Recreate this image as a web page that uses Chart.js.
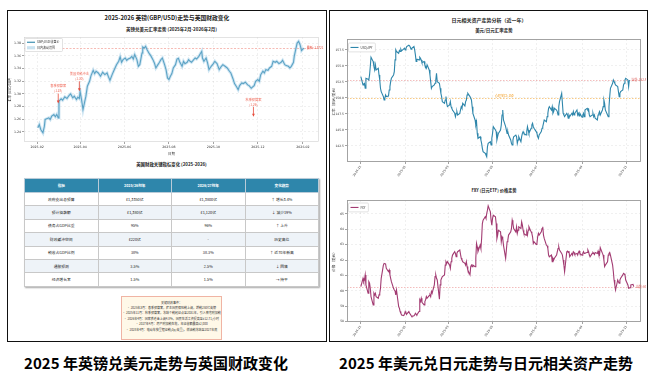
<!DOCTYPE html>
<html><head><meta charset="utf-8">
<script src="https://cdn.jsdelivr.net/npm/chart.js@4.4.1/dist/chart.umd.min.js"></script>
<style>
html,body{margin:0;padding:0;background:#fff;}
body{width:656px;height:380px;position:relative;overflow:hidden;font-family:"Noto Sans CJK SC","Noto Sans",sans-serif;color:#222;}
.frame{position:absolute;border:1.6px solid #111;box-sizing:border-box;}
.t{position:absolute;white-space:nowrap;transform:translate(-50%,-50%);font-weight:700;color:#222;}
canvas{position:absolute;}
#tbl{position:absolute;left:24px;top:178px;width:295px;border-collapse:collapse;table-layout:fixed;box-shadow:1px 1px 1.5px rgba(0,0,0,.35);}
#tbl th{background:#2E86AB;color:#fff;font-weight:700;font-size:3.6px;height:13px;padding:0;border:0.6px solid #b9cbd8;}
#tbl td{font-size:3.8px;height:12.4px;padding:0;text-align:center;border:0.6px solid #c8c8c8;color:#222;background:#fff;}
#tbl tr:nth-child(odd) td{background:#eef3f8;}
#note{position:absolute;left:121px;top:296px;width:101px;height:44px;background:#fff8e8;border:1px solid #f0b4a4;box-sizing:border-box;font-size:3px;line-height:5.4px;text-align:center;padding-top:3.5px;color:#333;white-space:nowrap;overflow:hidden;}
.cap{position:absolute;top:362px;transform:translate(-50%,-50%);font-size:15px;font-weight:700;color:#000;white-space:nowrap;}
</style></head>
<body>
<div class="frame" style="left:7px;top:10px;width:320px;height:332px;"></div>
<div class="frame" style="left:329px;top:10px;width:319px;height:332px;"></div>

<div class="t" style="left:167px;top:17px;font-size:5.8px;">2025-2026 英镑(GBP/USD)走势与英国财政变化</div>
<div class="t" style="left:171.5px;top:29px;font-size:4.5px;">英镑兑美元汇率走势 (2025年2月-2026年2月)</div>
<canvas id="gbp" width="317" height="128" style="left:8px;top:33px;"></canvas>
<div class="t" style="left:171.5px;top:164px;font-size:4.4px;">英国财政关键指标变化 (2025-2026)</div>
<table id="tbl"></table>
<div id="note"></div>

<div class="t" style="left:489px;top:19px;font-size:5px;">日元相关资产走势分析（近一年）</div>
<div class="t" style="left:494px;top:30px;font-size:4.5px;">美元/日元汇率走势</div>
<canvas id="jpy" width="315" height="145" style="left:331px;top:35px;"></canvas>
<div class="t" style="left:494px;top:190px;font-size:4.2px;">FXY (日元ETF) 价格走势</div>
<canvas id="fxy" width="315" height="145" style="left:331px;top:196px;"></canvas>

<div class="cap" style="left:156px;">2025 年英镑兑美元走势与英国财政变化</div>
<div class="cap" style="left:486px;">2025 年美元兑日元走势与日元相关资产走势</div>

<script>
// ================= DATA =================
const gbpDates = ['2025-02-02','2025-02-04','2025-02-06','2025-02-09','2025-02-11','2025-02-12','2025-02-17','2025-02-19','2025-02-21','2025-02-24','2025-02-26','2025-02-28',
'2025-03-02','2025-03-03','2025-03-06','2025-03-08','2025-03-11','2025-03-14','2025-03-17','2025-03-19','2025-03-22','2025-03-24','2025-03-27','2025-03-29','2025-03-31',
'2025-04-01','2025-04-03','2025-04-05','2025-04-07','2025-04-09','2025-04-11','2025-04-14','2025-04-16','2025-04-19','2025-04-21','2025-04-23','2025-04-26','2025-04-29',
'2025-05-02','2025-05-05','2025-05-08','2025-05-10','2025-05-12','2025-05-15','2025-05-17','2025-05-19','2025-05-21','2025-05-24','2025-05-26','2025-05-28','2025-05-30',
'2025-06-02','2025-06-04','2025-06-06','2025-06-09','2025-06-11','2025-06-13','2025-06-15','2025-06-18','2025-06-20','2025-06-22','2025-06-25','2025-06-26','2025-06-28','2025-06-30',
'2025-07-02','2025-07-05','2025-07-07','2025-07-10','2025-07-12','2025-07-14','2025-07-16','2025-07-19','2025-07-21','2025-07-23','2025-07-26','2025-07-28','2025-07-30',
'2025-08-01','2025-08-03','2025-08-05','2025-08-07','2025-08-10','2025-08-12','2025-08-14','2025-08-16','2025-08-19','2025-08-21','2025-08-23','2025-08-26','2025-08-28','2025-08-30',
'2025-09-01','2025-09-04','2025-09-06','2025-09-08','2025-09-11','2025-09-13','2025-09-15','2025-09-16','2025-09-18','2025-09-21','2025-09-23','2025-09-25','2025-09-28',
'2025-10-01','2025-10-03','2025-10-06','2025-10-09','2025-10-12','2025-10-14','2025-10-17','2025-10-20','2025-10-23','2025-10-25','2025-10-28','2025-10-30',
'2025-11-02','2025-11-04','2025-11-06','2025-11-09','2025-11-11','2025-11-14','2025-11-17','2025-11-19','2025-11-22','2025-11-24','2025-11-26','2025-11-28',
'2025-12-01','2025-12-03','2025-12-05','2025-12-08','2025-12-10','2025-12-12','2025-12-15','2025-12-17','2025-12-20','2025-12-22','2025-12-25','2025-12-27','2025-12-30',
'2026-01-02','2026-01-04','2026-01-07','2026-01-09','2026-01-12','2026-01-14','2026-01-16','2026-01-19','2026-01-20','2026-01-22','2026-01-24','2026-01-26','2026-01-28','2026-01-30',
'2026-02-02'];
const gbpClose = [1.2464,1.2516,1.2438,1.2385,1.2490,1.2595,1.2621,1.2595,1.2647,1.2673,1.2637,1.2673,
1.2621,1.2883,1.2920,1.2899,1.2951,1.2925,1.2977,1.2998,1.2935,1.2962,1.2909,1.2946,1.2925,
1.3040,1.2909,1.2752,1.2857,1.2962,1.3119,1.3197,1.3286,1.3370,1.3318,1.3355,1.3328,1.3276,
1.3339,1.3302,1.3328,1.3266,1.3213,1.3302,1.3355,1.3407,1.3459,1.3512,1.3580,1.3496,1.3538,
1.3564,1.3527,1.3548,1.3564,1.3590,1.3548,1.3617,1.3538,1.3433,1.3459,1.3643,1.3737,1.3721,1.3748,
1.3695,1.3632,1.3601,1.3538,1.3486,1.3407,1.3444,1.3496,1.3538,1.3564,1.3459,1.3381,1.3250,
1.3224,1.3276,1.3318,1.3407,1.3459,1.3548,1.3559,1.3496,1.3433,1.3512,1.3475,1.3496,1.3538,1.3512,
1.3496,1.3538,1.3564,1.3548,1.3590,1.3632,1.3669,1.3564,1.3512,1.3564,1.3486,1.3381,1.3433,
1.3475,1.3512,1.3475,1.3381,1.3433,1.3459,1.3433,1.3407,1.3355,1.3328,1.3234,1.3161,
1.3108,1.3066,1.3129,1.3171,1.3161,1.3182,1.3140,1.3129,1.3087,1.3108,1.3129,1.3197,
1.3224,1.3197,1.3302,1.3355,1.3328,1.3381,1.3370,1.3407,1.3433,1.3512,1.3496,1.3512,1.3475,
1.3496,1.3527,1.3459,1.3444,1.3433,1.3407,1.3433,1.3496,1.3590,1.3695,1.3800,1.3826,1.3774,1.3680,
1.3721];
const gbpTickLabels = ['2025-02','2025-04','2025-06','2025-08','2025-10','2025-12','2026-02'];
const gbpYTicks = [1.24,1.26,1.28,1.30,1.32,1.34,1.36,1.38];
const gbpLatest = 1.3721;
const eventDates = ['2025-03-02','2025-03-31','2025-11-25'];
const eventValues = [1.2846,1.3040,1.2637];
const eventNames = ['春季预算案','美国关税冲击','秋季预算案'];
const eventTags = ['(1.28)','(1.30)','(1.26)'];

const fiscalHeader = ['指标','2025/26财年','2026/27财年','变化趋势'];
const fiscalIndicators = ['政府支出总预算','预计借款额','债务占GDP比重','财政缓冲空间','税收占GDP比例','通胀预测','经济增长率'];
const fiscal2526 = ['£1,3350亿','£1,380亿','95%','£220亿','38%','3.5%','1.5%'];
const fiscal2627 = ['£1,3800亿','£1,120亿','96%','-','38.3%','2.5%','1.5%'];
const fiscalTrend = ['↑ 增长3.4%','↓ 减少19%','↑ 上升','历史高位','↑ 近70年新高','↓ 回落','→ 持平'];
const fiscalEvents = ['关键财政事件：',
 '• 2025年3月：春季预算案，雇主国民保险税上调，增税250亿英镑',
 '• 2025年11月：秋季预算案，冻结个税起征点至2031年，引入豪宅附加税',
 '• 2026年4月：国家养老金上调4.8%，国民生活工资提高至£12.71/小时',
 '• 2027年4月：房产附加税生效，年征收额最高£2,000',
 '• 2028年4月：电动车按里程征税(3p/英里)，燃油税冻结至2027年底'];

const jpStartDate = '2024-11-01';
const usdjpy = [153.33,152.03,152.19,152.29,151.51,153.07,152.92,152.81,153.59,154.90,156.35,155.68,154.90,154.37,155.16,154.37,154.63,153.59,152.81,151.51,150.99,150.21,149.68,149.94,150.47,150.21,150.30,151.25,151.77,152.55,153.07,153.59,154.11,155.94,157.50,157.24,156.98,157.40,157.24,157.60,157.34,157.66,157.76,157.50,157.71,158.02,158.23,158.13,157.92,157.60,157.76,158.02,157.50,156.72,155.68,156.04,155.94,156.35,156.20,155.94,155.52,155.68,155.16,154.90,154.63,155.16,154.37,153.59,152.55,151.51,151.77,152.03,152.29,152.81,153.85,152.55,152.29,151.51,150.73,150.21,149.42,149.16,149.68,150.21,149.16,148.64,148.90,149.42,148.64,148.38,148.12,147.60,147.08,147.60,147.86,147.34,147.60,148.12,148.64,148.38,149.16,148.75,149.42,149.68,150.47,150.73,150.21,149.94,149.68,148.64,147.60,146.56,145.78,146.30,144.47,143.69,143.95,143.43,142.91,142.13,141.61,141.35,141.09,140.83,142.39,142.91,143.17,142.65,143.69,144.47,145.52,144.99,144.74,143.43,143.95,144.47,144.99,145.78,147.34,148.12,146.56,145.52,144.99,144.47,144.74,144.21,143.43,142.91,142.65,143.43,143.95,144.21,143.95,142.91,143.43,143.95,143.17,143.95,144.47,144.74,144.47,144.21,144.74,145.52,144.99,144.47,145.26,145.78,146.04,145.52,145.26,144.74,144.47,143.95,143.69,144.21,144.74,145.26,145.52,146.04,146.56,146.30,147.08,147.60,148.38,148.64,148.12,148.64,147.60,147.86,148.38,148.12,147.86,147.34,148.64,149.42,150.73,149.16,147.60,147.34,147.08,147.60,147.34,146.82,147.34,147.08,147.60,147.34,147.86,147.34,147.60,148.12,147.34,147.60,147.18,147.60,146.98,147.34,147.60,147.08,148.12,148.38,148.12,148.23,147.34,147.08,147.34,147.60,147.08,147.34,146.82,146.56,147.34,147.60,147.86,147.34,148.12,148.64,149.68,149.16,148.12,147.34,147.08,148.64,150.21,151.51,152.29,152.81,152.55,152.29,152.03,151.77,150.99,150.21,150.73,150.99,151.25,152.03,152.29,152.81,153.07,152.81,151.77,152.81];
const fxy = [60.27,60.81,60.59,60.70,61.03,60.38,59.84,60.59,60.49,60.16,59.62,59.08,59.84,59.73,59.84,59.62,59.51,59.73,59.84,60.16,60.81,61.67,61.78,61.76,61.74,61.46,61.24,61.35,61.03,60.81,60.59,60.16,60.05,59.99,59.73,60.05,58.97,58.87,58.65,58.54,58.43,58.39,58.48,58.65,58.54,58.48,58.65,58.54,58.48,58.39,58.33,58.37,58.43,58.54,58.48,58.43,58.65,59.41,59.30,59.51,59.25,59.08,59.30,59.41,59.62,59.51,59.69,59.73,59.62,59.95,59.84,60.38,60.92,61.03,60.81,60.70,59.45,60.38,60.70,60.81,60.92,61.03,61.67,61.89,61.78,61.89,61.67,61.46,61.89,62.11,62.32,62.54,62.43,62.21,62.43,62.54,62.65,62.36,62.11,62.00,61.89,61.78,61.67,61.89,61.57,61.35,61.03,61.57,61.67,61.57,61.67,61.57,62.11,63.08,62.86,62.54,62.97,62.75,63.40,64.37,64.59,64.81,64.70,65.02,65.24,65.52,65.13,64.59,64.27,64.70,64.91,64.81,64.37,63.40,63.62,63.94,63.83,63.19,63.51,63.40,62.97,62.11,62.65,63.19,63.29,63.62,63.83,64.05,64.59,64.37,64.05,63.83,64.16,63.73,63.94,64.16,64.05,64.48,64.27,63.94,63.73,63.62,63.83,63.62,63.94,64.16,63.83,63.73,63.51,63.08,63.19,63.01,63.08,63.51,63.73,63.62,63.83,64.05,64.16,63.62,63.40,62.97,62.93,62.75,62.32,62.21,62.32,61.89,62.11,62.00,62.11,62.32,62.54,62.75,62.86,62.65,62.43,62.32,62.00,61.67,61.24,62.54,62.58,62.49,62.58,62.21,62.43,62.32,62.54,62.49,62.36,62.43,62.32,62.49,62.58,62.43,62.32,62.43,62.54,62.43,62.45,62.49,62.65,62.54,62.32,62.21,62.43,62.49,62.43,62.36,62.49,62.43,62.58,62.36,62.32,62.80,62.43,62.32,62.00,61.57,61.67,61.89,62.32,62.43,62.49,62.32,61.67,61.24,60.70,60.38,60.05,60.70,60.59,60.49,60.70,60.81,61.03,61.13,61.10,61.03,60.70,60.38,60.16,60.18,60.20,60.38,60.42,60.27];
const jpTickLabels = ['2024-11','2025-01','2025-03','2025-05','2025-07','2025-09','2025-11'];
const usdjpyYTicks = [142.5,145,147.5,150,152.5,155,157.5];
const fxyYTicks = [58,59,60,61,62,63,64,65];
const usdjpyKeyLevel = 150;

// ================= HELPERS =================
const DAY = 86400000;
const dn = (s, base) => Math.round((Date.parse(s + 'T00:00:00Z') - Date.parse(base + 'T00:00:00Z')) / DAY);
function tradingDays(start, n) {
  const out = []; let t = Date.parse(start + 'T00:00:00Z');
  while (out.length < n) { const d = new Date(t); const w = d.getUTCDay(); if (w !== 0 && w !== 6) out.push(d.toISOString().slice(0, 10)); t += DAY; }
  return out;
}
const CJK = '"Noto Sans CJK SC","Noto Sans",sans-serif';

function makeDecor(o) {
  return {
    id: 'decor',
    beforeDatasetsDraw(chart) {
      const { ctx, chartArea: a, scales: { y } } = chart;
      ctx.save();
      (o.hlines || []).forEach(h => {
        const py = Math.round(y.getPixelForValue(h.value)) + 0.5;
        ctx.strokeStyle = h.color; ctx.lineWidth = h.width || 0.8; ctx.setLineDash(h.dash || []);
        ctx.beginPath(); ctx.moveTo(a.left, py); ctx.lineTo(a.right, py); ctx.stroke();
      });
      ctx.restore();
    },
    afterDatasetsDraw(chart) {
      const { ctx, chartArea: a, scales: { x, y } } = chart;
      ctx.save();
      ctx.setLineDash([]);
      ctx.strokeStyle = o.frame; ctx.lineWidth = o.frameWidth || 0.8;
      ctx.strokeRect(a.left + 0.5, a.top + 0.5, a.right - a.left - 1, a.bottom - a.top - 1);
      (o.hlines || []).forEach(h => {
        if (!h.label) return;
        ctx.fillStyle = h.textColor; ctx.font = h.fs + 'px ' + CJK;
        ctx.textAlign = h.align || 'left'; ctx.textBaseline = 'middle';
        ctx.fillText(h.label, x.getPixelForValue(h.at) + (h.dx || 0), y.getPixelForValue(h.value) + (h.dy || 0));
      });
      (o.events || []).forEach(e => {
        const px = x.getPixelForValue(e.at), tip = y.getPixelForValue(e.value);
        ctx.strokeStyle = '#e74c3c'; ctx.fillStyle = '#e74c3c'; ctx.lineWidth = 0.8;
        ctx.beginPath(); ctx.moveTo(px, tip - 10); ctx.lineTo(px, tip - 2); ctx.stroke();
        ctx.beginPath(); ctx.moveTo(px, tip); ctx.lineTo(px - 1.4, tip - 3); ctx.lineTo(px + 1.4, tip - 3); ctx.closePath(); ctx.fill();
        ctx.fillStyle = '#ef6a5a'; ctx.font = '3.2px ' + CJK; ctx.textAlign = 'center'; ctx.textBaseline = 'middle';
        ctx.fillText(e.name, px, tip - 17.5); ctx.fillText(e.tag, px, tip - 12.5);
      });
      if (o.legend) {
        const L = o.legend;
        ctx.font = L.fs + 'px ' + CJK;
        const tw = Math.max(...L.items.map(it => ctx.measureText(it.label).width));
        const w = 12 + tw + 3, h = L.pad * 2 + L.row * L.items.length;
        const lx = a.left + L.dx, ly = a.top + L.dy;
        ctx.fillStyle = 'rgba(255,255,255,0.92)'; ctx.strokeStyle = '#cfcfcf'; ctx.lineWidth = 0.6;
        ctx.beginPath(); ctx.roundRect(lx, ly, w, h, 1); ctx.fill(); ctx.stroke();
        L.items.forEach((it, i) => {
          const cy = ly + L.pad + L.row * (i + 0.5);
          if (it.type === 'box') { ctx.fillStyle = it.color; ctx.fillRect(lx + 2, cy - 1.6, 8, 3.2); }
          else { ctx.strokeStyle = it.color; ctx.lineWidth = it.width; ctx.beginPath(); ctx.moveTo(lx + 2, cy); ctx.lineTo(lx + 10, cy); ctx.stroke(); }
          ctx.fillStyle = '#333'; ctx.textAlign = 'left'; ctx.textBaseline = 'middle';
          ctx.fillText(it.label, lx + 12, cy);
        });
      }
      ctx.restore();
    }
  };
}

function lineChart(id, c) {
  const xm = {}; c.xTickLabels.forEach(l => { xm[dn(l + '-01', c.base)] = l; });
  const gridCol = 'rgba(0,0,0,0.10)';
  return new Chart(document.getElementById(id), {
    type: 'line',
    data: { datasets: c.datasets },
    options: {
      responsive: false, animation: false, devicePixelRatio: 1, parsing: false,
      layout: { padding: { left: 0, right: c.R, top: c.T, bottom: 0 } },
      plugins: { legend: { display: false }, tooltip: { enabled: false } },
      elements: { point: { radius: 0 }, line: { tension: 0 } },
      scales: {
        x: {
          type: 'linear', min: c.xmin, max: c.xmax,
          afterBuildTicks: s => { s.ticks = Object.keys(xm).map(v => ({ value: +v })); },
          afterFit: s => { s.height = c.H; },
          ticks: { autoSkip: false, maxRotation: c.rot, minRotation: c.rot, padding: 1, color: '#333',
                   font: { size: c.fs, family: 'DejaVu Sans' }, callback: v => xm[v] || '' },
          grid: { color: gridCol, lineWidth: 0.6, tickLength: 2, tickColor: '#666' },
          border: { display: false, dash: [2, 2] },
          title: c.xTitle ? { display: true, text: c.xTitle, color: '#333', font: { size: 3.4, family: CJK }, padding: { top: 1, bottom: 5 } } : { display: false }
        },
        y: {
          min: c.ymin, max: c.ymax,
          afterBuildTicks: s => { s.ticks = c.yTicks.map(v => ({ value: v })); },
          afterFit: s => { s.width = c.W; },
          ticks: { padding: 1, color: '#333', font: { size: c.fs, family: 'DejaVu Sans' }, callback: v => Number(v).toFixed(c.yDec) },
          grid: { color: gridCol, lineWidth: 0.6, tickLength: 2, tickColor: '#666' },
          border: { display: false, dash: [2, 2] },
          title: { display: true, text: c.yTitle, color: '#333', font: { size: c.yTitleFs, family: CJK }, padding: { top: 0, bottom: 0.5 } }
        }
      }
    },
    plugins: [makeDecor(c.decor)]
  });
}

// ================= LEFT PANEL =================
const gB = '2025-01-01';
const gbpPts = gbpDates.map((d, i) => ({ x: dn(d, gB), y: gbpClose[i] }));
lineChart('gbp', {
  base: gB, xmin: 13, xmax: 418, ymin: 1.2240, ymax: 1.3895,
  xTickLabels: gbpTickLabels, yTicks: gbpYTicks, yDec: 2,
  W: 16, H: 19, R: 6, T: 4, rot: 0, fs: 3.2, yTitle: '汇率 (USD/GBP)', yTitleFs: 3.3, xTitle: '日期',
  datasets: [
    { data: gbpPts, borderColor: 'rgba(150,200,228,0.45)', borderWidth: 3, pointRadius: 0 },
    { data: gbpPts, borderColor: '#2E86AB', borderWidth: 1.1, pointRadius: 0 }
  ],
  decor: {
    frame: '#d0d0d0', frameWidth: 0.6,
    hlines: [{ value: gbpLatest, color: 'rgba(231,76,60,0.55)', dash: [2, 1.5], width: 0.7,
               label: '最新: ' + gbpLatest.toFixed(4), textColor: '#e74c3c', fs: 3,
               at: dn(gbpDates[gbpDates.length - 1], gB), dx: 3 }],
    events: eventDates.map((d, i) => ({ at: dn(d, gB), value: eventValues[i], name: eventNames[i], tag: eventTags[i] })),
    legend: { dx: 1, dy: 1.5, pad: 1, row: 5.5, fs: 3,
      items: [{ type: 'line', color: '#2E86AB', width: 1.1, label: 'GBP/USD 收盘价' },
              { type: 'box', color: 'rgba(150,200,228,0.5)', label: '日内波动范围' }] }
  }
});

// table
(function () {
  const tb = document.getElementById('tbl');
  let html = '<tr>' + fiscalHeader.map(h => '<th>' + h + '</th>').join('') + '</tr>';
  fiscalIndicators.forEach((n, i) => {
    html += '<tr><td>' + n + '</td><td>' + fiscal2526[i] + '</td><td>' + fiscal2627[i] + '</td><td>' + fiscalTrend[i] + '</td></tr>';
  });
  tb.innerHTML = html;
  document.getElementById('note').innerHTML = fiscalEvents.map(s => '<div>' + s + '</div>').join('');
})();

// ================= RIGHT PANEL =================
const jB = jpStartDate;
const jpyDays = tradingDays(jpStartDate, usdjpy.length);
const fxyDays = tradingDays(jpStartDate, fxy.length);
const jpyPts = jpyDays.map((d, i) => ({ x: dn(d, jB), y: usdjpy[i] }));
const fxyPts = fxyDays.map((d, i) => ({ x: dn(d, jB), y: fxy[i] }));
const jpyLast = usdjpy[usdjpy.length - 1], fxyLast = fxy[fxy.length - 1];

lineChart('jpy', {
  base: jB, xmin: -19, xmax: 385, ymin: 140.0, ymax: 159.2,
  xTickLabels: jpTickLabels, yTicks: usdjpyYTicks, yDec: 1,
  W: 16, H: 18, R: 5, T: 4, rot: 55, fs: 3, yTitle: '汇率（日元/美元）', yTitleFs: 3.6,
  datasets: [{ data: jpyPts, borderColor: '#2E86AB', borderWidth: 1.1, pointRadius: 0 }],
  decor: {
    frame: '#9a9a9a', frameWidth: 0.9,
    hlines: [
      { value: jpyLast, color: 'rgba(220,70,70,0.45)', dash: [1.5, 1.5], width: 0.8,
        label: '当前: ' + jpyLast.toFixed(1), textColor: '#d9534f', fs: 3, at: jpyPts[jpyPts.length - 1].x, dx: 2 },
      { value: usdjpyKeyLevel, color: 'rgba(241,143,1,0.6)', dash: [1.5, 1.5], width: 0.8,
        label: '心理关口: ' + usdjpyKeyLevel, textColor: '#F18F01', fs: 3, at: dn('2025-05-17', jB), align: 'center', dy: -2.5 }
    ],
    legend: { dx: 1.5, dy: 4, pad: 1.2, row: 6.5, fs: 3,
      items: [{ type: 'line', color: '#2E86AB', width: 1.1, label: 'USD/JPY' }] }
  }
});

lineChart('fxy', {
  base: jB, xmin: -19, xmax: 385, ymin: 57.97, ymax: 65.9,
  xTickLabels: jpTickLabels, yTicks: fxyYTicks, yDec: 0,
  W: 16, H: 19, R: 5, T: 4, rot: 55, fs: 3, yTitle: '价格（美元）', yTitleFs: 3.6,
  datasets: [{ data: fxyPts, borderColor: '#A23B72', borderWidth: 1.1, pointRadius: 0 }],
  decor: {
    frame: '#9a9a9a', frameWidth: 0.9,
    hlines: [{ value: fxyLast, color: 'rgba(220,70,70,0.45)', dash: [1.5, 1.5], width: 0.8,
               label: '当前: ' + fxyLast.toFixed(2), textColor: '#d9534f', fs: 3, at: fxyPts[fxyPts.length - 1].x, dx: 2 }],
    legend: { dx: 1.5, dy: 3, pad: 1.2, row: 6.5, fs: 3,
      items: [{ type: 'line', color: '#A23B72', width: 1.1, label: 'FXY' }] }
  }
});
</script>
</body></html>
